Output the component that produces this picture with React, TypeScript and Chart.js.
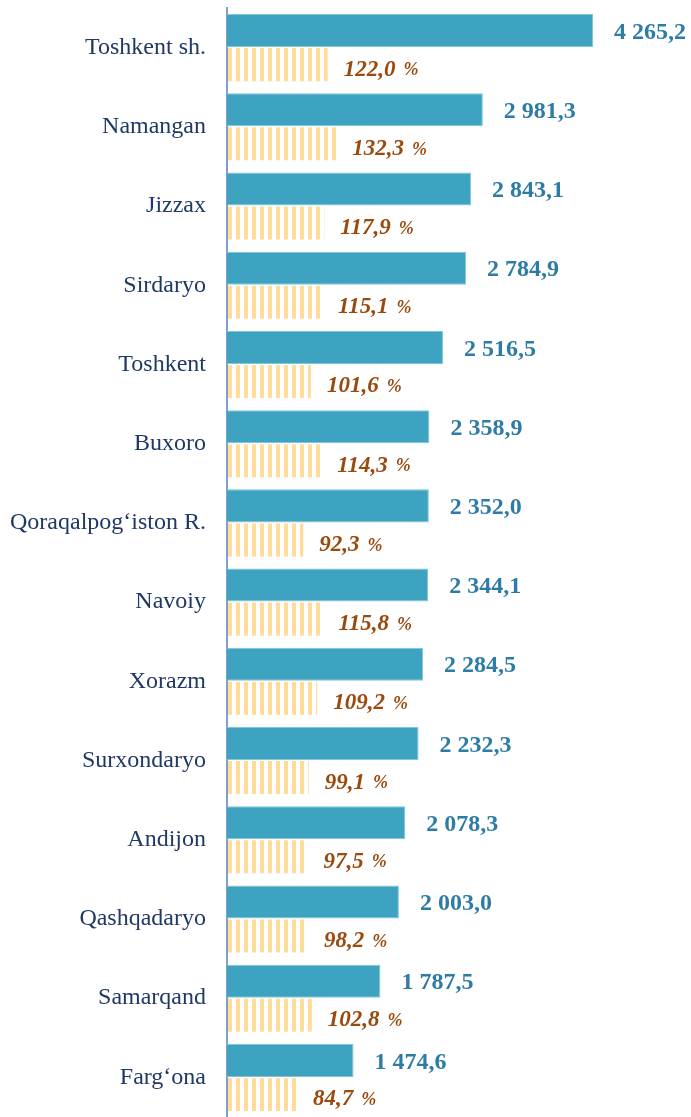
import { useEffect, useRef } from "react";
import { Chart, registerables } from "chart.js";

Chart.register(...registerables);

const regions = [
  "Toshkent sh.",
  "Namangan",
  "Jizzax",
  "Sirdaryo",
  "Toshkent",
  "Buxoro",
  "Qoraqalpog\u2018iston R.",
  "Navoiy",
  "Xorazm",
  "Surxondaryo",
  "Andijon",
  "Qashqadaryo",
  "Samarqand",
  "Farg\u2018ona",
];
const values = [4265.2, 2981.3, 2843.1, 2784.9, 2516.5, 2358.9, 2352.0, 2344.1, 2284.5, 2232.3, 2078.3, 2003.0, 1787.5, 1474.6];
const percents = [122.0, 132.3, 117.9, 115.1, 101.6, 114.3, 92.3, 115.8, 109.2, 99.1, 97.5, 98.2, 102.8, 84.7];

const fmt = (v: number) => {
  const [i, d] = v.toFixed(1).split(".");
  return i.replace(/\B(?=(\d{3})+(?!\d))/g, " ") + "," + d;
};

const BLUE = "#3EA3C0";
const BLUE_TEXT = "#2E7CA6";
const YELLOW = "#FFDC9A";
const BROWN = "#9A4A0E";
const NAVY = "#1F3864";
const SERIF = "'Liberation Serif', 'Times New Roman', serif";

const labelPlugin = {
  id: "valueLabels",
  afterDatasetsDraw(chart: any) {
    const ctx = chart.ctx;
    ctx.save();
    const m0 = chart.getDatasetMeta(0);
    ctx.textBaseline = "middle";
    ctx.textAlign = "left";
    m0.data.forEach((bar: any, i: number) => {
      ctx.font = `bold 24px ${SERIF}`;
      ctx.fillStyle = BLUE_TEXT;
      ctx.fillText(fmt(values[i]), bar.x + 21, bar.y + 2);
    });
    const m1 = chart.getDatasetMeta(1);
    m1.data.forEach((bar: any, i: number) => {
      const t = fmt(percents[i]);
      ctx.font = `italic bold 23px ${SERIF}`;
      ctx.fillStyle = BROWN;
      const x = bar.x + 16;
      const y = bar.y + 5;
      ctx.fillText(t, x, y);
      const w = ctx.measureText(t).width;
      ctx.font = `italic bold 18px ${SERIF}`;
      ctx.fillText("%", x + w + 8, y + 1);
    });
    ctx.restore();
  },
};

export default function App() {
  const ref = useRef<HTMLCanvasElement | null>(null);
  useEffect(() => {
    document.body.style.margin = "0";
    const pc = document.createElement("canvas");
    pc.width = 8;
    pc.height = 4;
    const pctx = pc.getContext("2d")!;
    pctx.fillStyle = YELLOW;
    pctx.fillRect(4, 0, 4, 4);
    const pattern = pctx.createPattern(pc, "repeat")!;

    const chart = new Chart(ref.current!, {
      type: "bar",
      data: {
        labels: regions,
        datasets: [
          {
            data: values,
            backgroundColor: BLUE,
            borderColor: "#7FC6DA",
            borderWidth: 1,
            xAxisID: "x",
            categoryPercentage: 0.86,
            barPercentage: 0.97,
          },
          {
            data: percents,
            backgroundColor: pattern as any,
            borderWidth: 0,
            xAxisID: "x2",
            categoryPercentage: 0.86,
            barPercentage: 0.97,
          },
        ],
      },
      options: {
        indexAxis: "y",
        animation: false,
        responsive: false,
        maintainAspectRatio: false,
        layout: { padding: { top: 8, right: 0, bottom: 0, left: 0 } },
        plugins: { legend: { display: false }, tooltip: { enabled: false } },
        scales: {
          x: { display: false, min: 0, max: 5407 },
          x2: { display: false, min: 0, max: 562 },
          y: {
            afterFit(scale: any) {
              scale.width = 227;
              scale.paddingTop = 0;
              scale.paddingBottom = 0;
            },
            grid: { display: false },
            border: { display: true, color: "#7F9FCF", width: 2 },
            ticks: {
              color: NAVY,
              padding: 13,
              font: { family: SERIF, size: 24 },
            },
          },
        },
      },
      plugins: [labelPlugin],
    });
    return () => chart.destroy();
  }, []);
  return <canvas ref={ref} width={691} height={1117} style={{ display: "block" }} />;
}
